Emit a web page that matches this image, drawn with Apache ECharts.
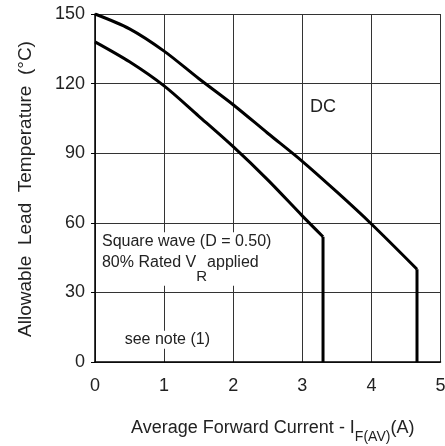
<!DOCTYPE html>
<html>
<head>
<meta charset="utf-8">
<script src="https://cdn.jsdelivr.net/npm/echarts@6/dist/echarts.min.js"></script>
<style>
html,body{margin:0;padding:0;background:#fff;}
#c{width:445px;height:446px;}
</style>
</head>
<body>
<div id="c"></div>
<script>
// Data
var xTicks = [0, 1, 2, 3, 4, 5];
var yTicks = [0, 30, 60, 90, 120, 150];
var dcX = [0, 0.5, 1, 1.5, 2, 2.5, 3, 3.5, 4, 4.66];
var dcY = [150, 143.6, 134, 122.2, 110.9, 98.6, 86.5, 73.3, 59.5, 40];
var sqX = [0, 0.5, 1, 1.5, 2, 2.5, 3, 3.3];
var sqY = [138, 129.4, 119, 106, 92.8, 78.5, 63, 54];
var dropFloor = 0; // both curves fall vertically to 0 at their last current
var yTitle = 'Allowable  Lead  Temperature  (°C)';

var FONT = '"Liberation Sans", Arial, sans-serif';
var TXT = '#222';

function pairs(xs, ys) { return xs.map(function (x, i) { return [x, ys[i]]; }); }
function drop(xs, ys) {
  var i = xs.length - 1;
  return [[xs[i], ys[i]], [xs[i], dropFloor]];
}

var lineStyle = { color: '#000', width: 3 };
var chart = echarts.init(document.getElementById('c'), null, { renderer: 'canvas' });
var option = {
  backgroundColor: '#fff',
  animation: false,
  grid: { left: 95, right: 4.5, top: 14, bottom: 84, containLabel: false, outerBoundsMode: 'none' },
  xAxis: {
    type: 'value', min: xTicks[0], max: xTicks[xTicks.length - 1], interval: 1,
    axisLine: { show: true, lineStyle: { color: '#000', width: 1.5 } },
    axisTick: { show: false },
    axisLabel: { color: TXT, fontFamily: FONT, fontSize: 18, margin: 15 },
    splitLine: { show: true, lineStyle: { color: '#333', width: 1 } },
    name: '{n|Average Forward Current - I}{s|F(AV)}{n|(A)}',
    nameLocation: 'middle', nameGap: 50, nameMoveOverlap: false,
    nameTextStyle: {
      padding: [0, 0, 0, 10],
      rich: {
        n: { fontFamily: FONT, fontSize: 18, color: TXT, lineHeight: 32 },
        s: { fontFamily: FONT, fontSize: 14, color: TXT, lineHeight: 32, padding: [18, 0, 0, 0] }
      }
    }
  },
  yAxis: {
    type: 'value', min: yTicks[0], max: yTicks[yTicks.length - 1], interval: 30,
    axisLine: { show: true, lineStyle: { color: '#000', width: 1.5 } },
    axisTick: { show: true, length: 4, lineStyle: { color: '#000', width: 1 } },
    axisLabel: { color: TXT, fontFamily: FONT, fontSize: 18, margin: 10 },
    splitLine: { show: true, lineStyle: { color: '#333', width: 1 } }
  },
  series: [
    { type: 'line', name: 'DC', data: pairs(dcX, dcY), showSymbol: false, smooth: 0.3,
      lineStyle: lineStyle, z: 5 },
    { type: 'line', name: 'DC drop', data: drop(dcX, dcY), showSymbol: false,
      lineStyle: lineStyle, z: 5 },
    { type: 'line', name: 'Square', data: pairs(sqX, sqY), showSymbol: false, smooth: 0.3,
      lineStyle: lineStyle, z: 5 },
    { type: 'line', name: 'Square drop', data: drop(sqX, sqY), showSymbol: false,
      lineStyle: lineStyle, z: 5 }
  ]
};
chart.setOption(option);

// annotations anchored in data coordinates
var notes = [
  { at: [3.30, 110], text: 'DC', size: 18, align: 'center', bg: false, z: 10 },
  { at: [0.072, 52], text: 'Square wave (D = 0.50)', size: 16, align: 'left', bg: true, z: 12 },
  { at: [0.072, 42.8], text: '{n|80% Rated V}{r|R}{n|applied}', size: 16, align: 'left', rich: true, bg: true, z: 11 },
  { at: [0.40, 9.6], text: 'see note (1)', size: 16, align: 'left', bg: true, z: 10 }
];
var graphics = notes.map(function (n) {
  var p = chart.convertToPixel({ gridIndex: 0 }, n.at);
  var style = {
    text: n.text, x: p[0], y: p[1], fill: TXT,
    font: n.size + 'px ' + FONT, align: n.align, verticalAlign: 'middle'
  };
  if (n.bg) { style.backgroundColor = '#fff'; style.padding = [1, 2, 1, 2]; }
  if (n.rich) {
    style.rich = {
      n: { fontFamily: FONT, fontSize: 16, fill: TXT, lineHeight: 20 },
      r: { fontFamily: FONT, fontSize: 15, fill: TXT, padding: [29, 0, 0, 0] }
    };
  }
  return { type: 'text', style: style, z: n.z };
});
// y-axis title: centred on the plot's vertical middle, 69px left of the axis
var origin = chart.convertToPixel({ gridIndex: 0 }, [xTicks[0], (yTicks[0] + yTicks[yTicks.length - 1]) / 2]);
graphics.push({
  type: 'text', rotation: Math.PI / 2, x: origin[0] - 69, y: origin[1] + 1,
  style: { text: yTitle, fill: TXT, font: '19px ' + FONT, align: 'center', verticalAlign: 'middle' },
  z: 10
});
chart.setOption({ graphic: graphics });
</script>
</body>
</html>
